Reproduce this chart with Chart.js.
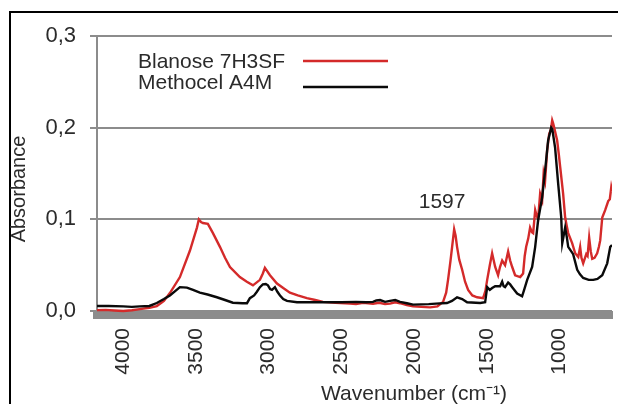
<!DOCTYPE html>
<html>
<head>
<meta charset="utf-8">
<script src="https://cdn.jsdelivr.net/npm/chart.js@4.4.1/dist/chart.umd.min.js"></script>
<style>
  html, body { margin: 0; padding: 0; background: #ffffff; }
  #wrap { width: 618px; height: 404px; }
</style>
</head>
<body>
<div id="wrap"><canvas id="c" width="618" height="404"></canvas></div>
<script>
// ---- Data ----
const seriesNames = ['Blanose 7H3SF', 'Methocel A4M'];

const blanoseWavenumber = [4180,4120,4060,4000,3940,3885,3820,3769,3720,3679,3610,3541,3493,3480,3465,3452,3418,3383,3335,3300,3266,3198,3150,3108,3060,3040,3026,2991,2943,2900,2854,2800,2737,2680,2627,2540,2441,2400,2350,2283,2240,2200,2166,2130,2097,2050,2007,1950,1890,1840,1801,1780,1767,1750,1739,1725,1715,1705,1690,1670,1650,1629,1600,1567,1526,1510,1498,1480,1464,1443,1423,1410,1395,1375,1354,1340,1326,1306,1290,1271,1251,1240,1230,1216,1203,1190,1182,1168,1158,1148,1134,1120,1110,1100,1086,1072,1060,1051,1045,1037,1017,1005,996,976,962,950,941,914,893,872,859,850,838,817,808,797,786,776,760,742,730,721,707,687,666,655,645,640];
const blanoseAbsorbance = [0.001,0.0012,0.0005,0.000,0.0008,0.002,0.0035,0.0054,0.011,0.0196,0.037,0.066,0.091,0.100,0.097,0.096,0.095,0.085,0.070,0.058,0.048,0.037,0.032,0.028,0.034,0.041,0.047,0.039,0.030,0.025,0.020,0.017,0.014,0.012,0.010,0.009,0.008,0.0075,0.009,0.008,0.009,0.0075,0.008,0.0095,0.0085,0.0065,0.005,0.0045,0.004,0.005,0.010,0.020,0.034,0.055,0.070,0.089,0.082,0.070,0.056,0.045,0.032,0.023,0.017,0.015,0.014,0.022,0.034,0.050,0.063,0.048,0.039,0.048,0.055,0.050,0.065,0.055,0.048,0.039,0.038,0.037,0.041,0.060,0.070,0.079,0.091,0.086,0.085,0.110,0.104,0.100,0.128,0.121,0.150,0.142,0.175,0.193,0.198,0.208,0.205,0.200,0.186,0.170,0.157,0.128,0.102,0.092,0.085,0.074,0.063,0.059,0.070,0.058,0.052,0.062,0.060,0.080,0.065,0.057,0.058,0.063,0.070,0.077,0.102,0.110,0.120,0.122,0.135,0.131];

const methocelWavenumber = [4180,4100,4000,3940,3885,3820,3769,3720,3679,3610,3562,3520,3473,3420,3356,3300,3246,3180,3149,3129,3100,3081,3060,3040,3020,3005,2990,2977,2957,2940,2922,2900,2874,2805,2700,2627,2500,2400,2330,2283,2260,2234,2200,2166,2130,2097,2050,2007,1900,1850,1774,1740,1705,1670,1636,1546,1512,1498,1480,1464,1443,1409,1395,1385,1375,1354,1340,1326,1292,1258,1244,1223,1189,1168,1148,1120,1100,1079,1058,1050,1031,1010,989,982,975,962,950,941,907,879,860,838,800,769,740,707,673,652,640];
const methocelAbsorbance = [0.0054,0.0055,0.005,0.0045,0.005,0.0055,0.0087,0.013,0.017,0.026,0.0255,0.023,0.020,0.018,0.015,0.012,0.009,0.0085,0.0085,0.014,0.017,0.021,0.026,0.029,0.0295,0.028,0.024,0.023,0.026,0.021,0.017,0.013,0.011,0.0095,0.0095,0.0095,0.0095,0.010,0.0095,0.010,0.0115,0.012,0.010,0.011,0.012,0.010,0.0085,0.007,0.0075,0.008,0.0087,0.011,0.015,0.013,0.0095,0.0087,0.0095,0.026,0.023,0.025,0.027,0.027,0.032,0.027,0.026,0.031,0.029,0.026,0.019,0.016,0.023,0.034,0.048,0.070,0.099,0.124,0.153,0.186,0.200,0.198,0.178,0.139,0.102,0.074,0.080,0.091,0.080,0.070,0.062,0.045,0.040,0.036,0.034,0.034,0.035,0.039,0.052,0.070,0.072];

const xTickValues = [4000, 3500, 3000, 2500, 2000, 1500, 1000];
const yTickValues = [0, 0.1, 0.2, 0.3];
const xAxisTitle = 'Wavenumber (cm\u207B\u00B9)';
const yAxisTitle = 'Absorbance';
const peakLabel = '1597';
const peakLabelAt = [1808, 0.1185];   // wavenumber, absorbance of the label centre

// ---- Styling ----
const FONT = "'Liberation Sans', Arial, Helvetica, sans-serif";
const TEXT = '#2b2b2b';
const GRID = '#8c8c8c';
const RED = '#d42a2a';
const BLACK = '#0a0a0a';

function pairs(xs, ys) { return xs.map((x, i) => ({ x: x, y: ys[i] })); }

const decor = {
  id: 'decor',
  beforeDraw(chart) {
    const ctx = chart.ctx;
    ctx.save();
    ctx.fillStyle = '#ffffff';
    ctx.fillRect(0, 0, chart.width, chart.height);
    ctx.restore();
  },
  afterDraw(chart) {
    const ctx = chart.ctx;
    const xs = chart.scales.x, ys = chart.scales.y;
    ctx.save();
    // outer frame
    ctx.strokeStyle = '#000000';
    ctx.lineWidth = 2;
    ctx.strokeRect(10, 12, 640, 420);

    // legend (text first, line sample after)
    ctx.font = '21px ' + FONT;
    ctx.textBaseline = 'middle';
    ctx.textAlign = 'left';
    const legendRows = [{ ty: 62, ly: 61 }, { ty: 83, ly: 87 }];
    chart.data.datasets.forEach((ds, i) => {
      const r = legendRows[i];
      ctx.fillStyle = TEXT;
      ctx.fillText(ds.label, 138, r.ty);
      ctx.strokeStyle = ds.borderColor;
      ctx.lineWidth = 2.5;
      ctx.beginPath();
      ctx.moveTo(303, r.ly);
      ctx.lineTo(388, r.ly);
      ctx.stroke();
    });

    // peak annotation
    ctx.fillStyle = TEXT;
    ctx.textAlign = 'center';
    ctx.fillText(peakLabel, xs.getPixelForValue(peakLabelAt[0]), ys.getPixelForValue(peakLabelAt[1]));

    // x axis title
    ctx.font = '21px ' + FONT;
    ctx.fillText(xAxisTitle, 414, 394);

    // y axis title
    ctx.translate(19, 189);
    ctx.rotate(-Math.PI / 2);
    ctx.font = '20px ' + FONT;
    ctx.fillText(yAxisTitle, 0, 0);
    ctx.restore();
  }
};

new Chart(document.getElementById('c'), {
  type: 'line',
  data: {
    datasets: [
      { label: seriesNames[0], data: pairs(blanoseWavenumber, blanoseAbsorbance), borderColor: RED, backgroundColor: RED, borderWidth: 2.4, pointRadius: 0, tension: 0, order: 2 },
      { label: seriesNames[1], data: pairs(methocelWavenumber, methocelAbsorbance), borderColor: BLACK, backgroundColor: BLACK, borderWidth: 2.4, pointRadius: 0, tension: 0, order: 1 }
    ]
  },
  options: {
    responsive: false,
    animation: false,
    devicePixelRatio: 1,
    layout: { padding: { left: 0, right: 6, top: 36, bottom: 0 } },
    plugins: { legend: { display: false }, title: { display: false }, tooltip: { enabled: false } },
    scales: {
      x: {
        type: 'linear',
        reverse: true,
        min: 640,
        max: 4180,
        afterBuildTicks: s => { s.ticks = xTickValues.map(v => ({ value: v })); },
        afterFit: s => { s.height = 89; },
        grid: { display: false, drawTicks: false },
        border: { display: true, color: GRID, width: 8 },
        ticks: {
          autoSkip: false,
          minRotation: 90,
          maxRotation: 90,
          padding: 13,
          color: TEXT,
          font: { family: FONT, size: 21 },
          callback: v => String(v)
        }
      },
      y: {
        type: 'linear',
        min: -0.00436,
        max: 0.3,
        afterBuildTicks: s => { s.ticks = yTickValues.map(v => ({ value: v })); },
        afterFit: s => { s.width = 97; },
        grid: { color: GRID, lineWidth: 2, drawTicks: true, tickLength: 7 },
        border: { display: true, color: GRID, width: 2 },
        ticks: {
          padding: 14,
          color: TEXT,
          font: { family: FONT, size: 22 },
          callback: v => v.toFixed(1).replace('.', ',')
        }
      }
    }
  },
  plugins: [decor]
});
</script>
</body>
</html>
